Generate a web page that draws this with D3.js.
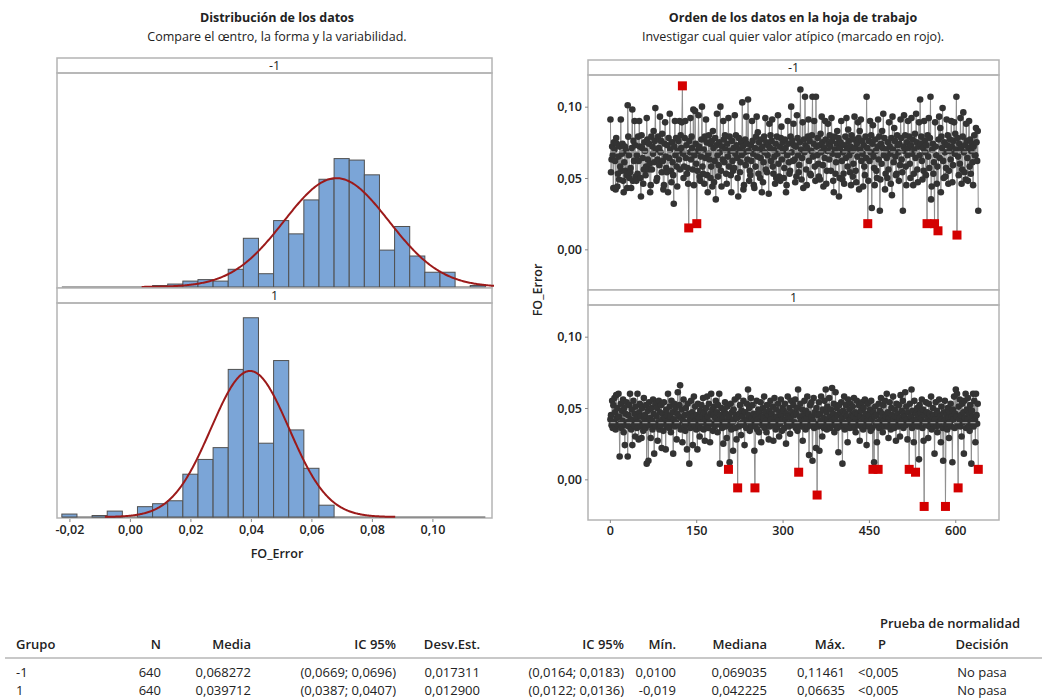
<!DOCTYPE html>
<html>
<head>
<meta charset="utf-8">
<script src="https://cdn.jsdelivr.net/npm/d3@7"></script>
<style>
  body { margin: 0; background: #fff; }
  svg { font-family: "Open Sans", sans-serif; }
</style>
</head>
<body>
<svg id="chart" width="1042" height="700"></svg>
<script>
// ---- data ----
var groups = ["-1", "1"];

// histogram bins (centres, width 0.005) and counts per group
var binMids = [-0.02, -0.015, -0.01, -0.005, 0, 0.005, 0.01, 0.015, 0.02, 0.025, 0.03, 0.035, 0.04, 0.045,
               0.05, 0.055, 0.06, 0.065, 0.07, 0.075, 0.08, 0.085, 0.09, 0.095, 0.10, 0.105, 0.11, 0.115];
var countsNeg = [0, 0, 0, 0, 0, 0, 1, 2, 4, 5, 4, 12, 33, 9, 45, 36, 59, 73, 87, 86, 76, 25, 41, 21, 10, 10, 0, 1];
var countsPos = [2, 0, 1, 4, 0, 7, 9, 11, 29, 39, 47, 100, 135, 50, 106, 59, 33, 8, 0, 0, 0, 0, 0, 0, 0, 0, 0, 0];

var statN = [640, 640];
var statMean = [0.068272, 0.039712];
var statSd = [0.017311, 0.012900];

// worksheet order, values x 1000
var seriesNeg = [
  91,54,63,72,66,43,75,70,62,42,78,74,44,53,65,49,72,58,91,55,
  67,74,48,40,61,72,55,69,52,43,101,79,66,50,54,57,43,71,98,48,
  76,62,90,73,51,48,66,53,79,62,90,72,50,37,80,71,64,46,56,75,
  69,52,58,92,77,63,56,74,60,40,45,79,56,72,67,83,61,76,99,70,
  48,50,63,79,71,59,93,68,76,54,81,62,42,45,74,89,65,57,54,73,
  40,78,64,95,70,55,47,75,61,52,32,72,90,66,78,58,44,69,76,63,
  90,56,80,71,89,114.6,67,50,58,78,90,64,73,53,57,46,15,76,68,92,
  63,79,71,56,98,45,66,97,74,60,18,55,69,94,72,51,48,65,77,100,
  58,53,70,46,79,64,91,75,52,40,67,80,63,74,50,58,76,44,83,71,
  47,62,78,35,73,95,66,51,59,75,68,100,55,44,72,63,90,77,61,80,
  70,53,46,74,65,92,58,79,69,52,40,76,62,55,71,57,94,67,80,73,
  64,50,37,78,70,54,61,75,66,103,72,42,45,68,77,59,93,74,63,105,
  69,48,55,52,73,62,90,76,67,45,43,71,58,79,93,65,82,53,75,70,
  50,64,77,40,72,47,61,79,68,92,56,75,54,66,73,39,88,71,80,62,
  76,91,58,53,70,65,46,74,50,79,67,94,60,51,72,48,78,86,63,75,
  69,50,57,77,71,40,45,66,90,74,61,53,55,79,100,68,76,62,88,73,
  63,47,72,51,94,78,66,54,59,75,112,70,49,64,89,43,77,68,107,73,
  56,45,71,79,91,62,76,53,52,69,80,107,65,74,90,58,48,107,72,66,
  78,60,51,73,49,81,68,93,75,59,44,71,64,90,77,46,55,69,88,74,
  63,80,72,55,92,76,67,48,40,79,70,53,61,74,83,66,78,37,50,71,
  75,90,62,49,68,53,46,73,79,64,92,70,58,84,76,66,54,72,45,80,
  69,51,60,77,93,71,55,47,74,65,89,78,42,83,70,91,62,76,67,44,
  73,58,52,79,64,107,71,18,48,76,62,90,68,80,29,74,87,65,57,45,
  77,69,55,50,72,91,63,79,27,49,74,60,83,71,95,66,78,42,53,70,
  64,50,75,56,89,72,67,46,78,38,93,70,61,85,76,65,52,53,80,73,
  68,48,74,59,91,78,63,54,27,72,94,69,80,58,45,75,66,90,71,79,
  60,50,73,92,67,77,45,53,70,81,64,95,75,56,47,72,89,66,105,74,
  79,62,49,71,55,90,76,68,52,73,18,80,65,92,57,78,107,35,44,70,
  74,53,61,18,89,72,66,46,58,13,77,93,64,85,40,79,71,99,62,50,
  75,68,51,57,91,73,80,46,55,69,77,63,90,72,47,59,76,89,67,81,
  70,107,10,78,65,52,74,60,92,71,46,56,79,96,68,54,73,49,88,76,
  64,48,71,90,58,77,53,69,74,61,45,72,80,66,66,85,75,62,83,27
];
var seriesPos = [
  42,45,38,55,36,52,40,57,47,35,59,43,50,38,60,44,16,39,53,36,
  48,41,56,33,50,24,46,38,54,40,16,45,37,52,60,42,35,49,24,41,
  55,38,46,30,51,43,36,60,40,28,47,53,37,44,29,50,39,34,57,42,
  45,36,52,11,40,48,13,54,38,43,29,50,41,35,56,46,18,39,53,37,
  44,50,27,40,55,35,47,38,52,22,42,46,34,54,39,43,21,49,37,45,
  60,41,36,51,44,33,55,39,47,18,42,53,37,50,40,28,46,61,38,44,
  52,66,35,43,49,26,41,56,37,45,34,50,38,21,53,40,46,11,42,36,
  55,39,47,24,44,58,37,51,41,35,45,21,53,38,43,30,48,36,52,40,
  44,57,35,47,27,42,50,38,58,44,36,53,40,26,46,60,39,49,34,45,
  51,37,43,55,39,47,33,52,41,60,11,45,38,50,36,43,25,48,40,54,
  37,46,29,51,41,7,44,12,38,53,35,47,40,20,49,42,56,36,45,28,
  43,-6,58,37,46,52,39,31,48,44,40,55,38,24,47,41,36,53,42,63,
  45,50,34,39,57,43,37,52,41,46,20,-6,38,44,55,35,42,49,33,47,
  40,54,26,44,38,50,43,58,36,47,41,33,52,39,45,28,48,37,55,42,
  46,38,51,27,43,57,40,35,49,44,37,53,41,30,47,39,56,45,34,50,
  42,48,36,53,41,25,46,39,58,44,37,50,32,43,55,40,47,38,52,45,
  40,56,36,46,50,34,63,5,38,44,53,41,37,49,27,45,39,55,42,35,
  48,43,58,37,46,17,40,52,38,54,44,13,41,57,36,47,39,22,50,-11,
  45,37,54,20,46,41,58,38,30,49,43,36,55,40,63,47,35,51,42,38,
  57,44,36,49,41,64,38,46,53,33,43,61,39,50,36,45,19,52,40,47,
  37,54,43,11,48,40,58,35,46,52,38,44,26,56,41,49,36,53,42,45,
  39,51,44,57,36,47,33,42,55,40,46,38,52,27,44,48,37,54,41,35,
  50,43,56,38,46,24,41,53,37,45,39,49,34,55,42,36,7,47,12,44,
  51,38,45,26,40,7,53,36,48,42,57,39,46,33,52,41,37,55,44,39,
  60,37,47,29,43,54,40,35,50,45,38,58,42,36,49,44,27,53,40,46,
  37,52,43,30,59,39,48,41,55,36,46,44,61,38,51,42,28,47,40,7,
  53,39,44,63,36,48,41,26,55,38,5,46,42,50,37,45,14,52,40,47,
  43,56,36,49,27,-19,45,40,54,38,47,42,29,53,37,46,41,58,35,44,
  50,39,45,18,42,54,37,48,33,46,40,56,38,44,26,51,42,36,13,47,
  41,55,-19,38,45,35,50,43,29,47,40,53,37,44,12,49,42,58,36,46,
  63,44,60,38,-6,51,42,56,37,45,30,53,40,47,18,55,43,60,36,49,
  42,57,38,46,34,52,40,11,48,44,60,37,55,42,26,60,45,39,53,7
];
// observation numbers flagged in red
var outliersNeg = [126, 137, 151, 448, 551, 564, 570, 603];
var outliersPos = [206, 222, 252, 328, 360, 457, 466, 520, 531, 546, 583, 605, 640];

var histTicks = [-0.02, 0, 0.02, 0.04, 0.06, 0.08, 0.10];
var orderTicks = [0, 150, 300, 450, 600];
var valueTicks = [0, 0.05, 0.10];

var tableHead = ["Grupo", "N", "Media", "IC 95%", "Desv.Est.", "IC 95%", "Mín.", "Mediana", "Máx.", "P", "Decisión"];
var tableRowNeg = ["-1", "640", "0,068272", "(0,0669; 0,0696)", "0,017311", "(0,0164; 0,0183)", "0,0100", "0,069035", "0,11461", "<0,005", "No pasa"];
var tableRowPos = ["1", "640", "0,039712", "(0,0387; 0,0407)", "0,012900", "(0,0122; 0,0136)", "-0,019", "0,042225", "0,06635", "<0,005", "No pasa"];

// ---- drawing ----
var svg = d3.select("#chart");
var frameColor = "#b4b4b4";
var stripH = 15, plotH = 215;

function fmt(spec) {
  return function (v) { return d3.format(spec)(v).replace(".", ",").replace("\u2212", "-"); };
}

function titles(cx, main, sub) {
  svg.append("text").attr("x", cx).attr("y", 22).attr("text-anchor", "middle")
      .style("font-size", "12.5px").style("font-weight", 700).attr("fill", "#222").text(main);
  svg.append("text").attr("x", cx).attr("y", 41).attr("text-anchor", "middle")
      .style("font-size", "12.5px").attr("fill", "#222").text(sub);
}

function panelFrame(x0, x1, top, label) {
  svg.append("rect").attr("x", x0).attr("y", top).attr("width", x1 - x0).attr("height", stripH)
      .attr("fill", "#fff").attr("stroke", frameColor).attr("stroke-width", 1.5);
  svg.append("rect").attr("x", x0).attr("y", top + stripH).attr("width", x1 - x0).attr("height", plotH)
      .attr("fill", "none").attr("stroke", frameColor).attr("stroke-width", 1.5);
  svg.append("text").attr("x", (x0 + x1) / 2).attr("y", top + stripH / 2 + 4.5)
      .attr("text-anchor", "middle").style("font-size", "12.5px").attr("fill", "#222").text(label);
}

function styleAxis(g) {
  g.select(".domain").remove();
  g.selectAll("line").attr("stroke", "#888");
  g.selectAll("text").style("font-size", "12.5px").style("font-weight", 600)
      .style("font-family", "'Open Sans', sans-serif").attr("fill", "#222");
}

// left: histograms
titles(277, "Distribución de los datos", "Compare el œntro, la forma y la variabilidad.");

var hx = d3.scaleLinear().domain([-0.0241, 0.1197]).range([57, 492]);
var hy = d3.scaleLinear().domain([0, 145]).range([0, plotH - 1]);
var binW = 0.005;
var histCounts = [countsNeg, countsPos];

svg.append("defs").selectAll("clipPath").data(groups).join("clipPath")
    .attr("id", function (d, i) { return "hclip" + i; })
  .append("rect")
    .attr("x", 57).attr("width", 437)
    .attr("y", function (d, i) { return 58 + i * (stripH + plotH) + stripH; })
    .attr("height", plotH);

groups.forEach(function (grp, i) {
  var top = 58 + i * (stripH + plotH);
  var base = top + stripH + plotH - 1;
  panelFrame(57, 492, top, grp);

  var g = svg.append("g").attr("clip-path", "url(#hclip" + i + ")");
  g.append("line")
      .attr("x1", hx(binMids[0] - binW / 2)).attr("x2", hx(binMids[binMids.length - 1] + binW / 2))
      .attr("y1", base).attr("y2", base).attr("stroke", "#555").attr("stroke-width", 1.2);

  var bins = binMids.map(function (m, j) { return {mid: m, n: histCounts[i][j]}; })
      .filter(function (b) { return b.n > 0; });
  g.selectAll("rect.bar").data(bins).join("rect").attr("class", "bar")
      .attr("x", function (b) { return hx(b.mid - binW / 2); })
      .attr("width", function (b) { return hx(b.mid + binW / 2) - hx(b.mid - binW / 2); })
      .attr("y", function (b) { return base - hy(b.n); })
      .attr("height", function (b) { return hy(b.n); })
      .attr("fill", "#7ba5d7").attr("stroke", "#505050").attr("stroke-width", 1);

  var mu = statMean[i], sd = statSd[i];
  var xs = d3.range(-3.72, 3.7201, 0.02).map(function (z) { return mu + z * sd; });
  var curve = d3.line()
      .x(function (v) { return hx(v); })
      .y(function (v) {
        var z = (v - mu) / sd;
        var pdf = Math.exp(-0.5 * z * z) / (sd * Math.sqrt(2 * Math.PI));
        return base - hy(statN[i] * binW * pdf);
      });
  g.append("path").datum(xs).attr("d", curve)
      .attr("fill", "none").attr("stroke", "#9c1a1a").attr("stroke-width", 2);
});

svg.append("g").attr("transform", "translate(0,519)")
    .call(d3.axisBottom(hx).tickValues(histTicks).tickFormat(fmt(".2f")).tickSize(3).tickPadding(3))
    .call(styleAxis);
svg.append("text").attr("x", 277).attr("y", 558).attr("text-anchor", "middle")
    .style("font-size", "12.5px").style("font-weight", 600).attr("fill", "#222").text("FO_Error");

// right: worksheet order
titles(793, "Orden de los datos en la hoja de trabajo", "Investigar cual quier valor atípico (marcado en rojo).");

var ox = d3.scaleLinear().domain([-38, 676]).range([588, 999]);
var series = [seriesNeg, seriesPos];
var outliers = [outliersNeg, outliersPos];

groups.forEach(function (grp, i) {
  var top = 60 + i * (stripH + plotH);
  var plotTop = top + stripH, plotBottom = plotTop + plotH;
  panelFrame(588, 999, top, grp);

  var oy = d3.scaleLinear().domain([-0.0285, 0.1222]).range([plotBottom, plotTop]);
  var pts = series[i].map(function (v, j) {
    return {obs: j + 1, val: v / 1000, out: outliers[i].indexOf(j + 1) >= 0};
  });

  var g = svg.append("g");
  g.append("path").datum(pts)
      .attr("d", d3.line().x(function (d) { return ox(d.obs); }).y(function (d) { return oy(d.val); }))
      .attr("fill", "none").attr("stroke", "#8f8f8f").attr("stroke-width", 1);
  g.selectAll("circle").data(pts.filter(function (d) { return !d.out; })).join("circle")
      .attr("cx", function (d) { return ox(d.obs); })
      .attr("cy", function (d) { return oy(d.val); })
      .attr("r", 3.3).attr("fill", "#333");
  g.append("line")
      .attr("x1", ox(1)).attr("x2", ox(series[i].length))
      .attr("y1", oy(statMean[i])).attr("y2", oy(statMean[i]))
      .attr("stroke", "#9a9a9a").attr("stroke-width", 1.3).attr("stroke-dasharray", "5,3");
  g.selectAll("rect.out").data(pts.filter(function (d) { return d.out; })).join("rect")
      .attr("class", "out")
      .attr("x", function (d) { return ox(d.obs) - 4.5; })
      .attr("y", function (d) { return oy(d.val) - 4.5; })
      .attr("width", 9).attr("height", 9).attr("fill", "#d40000");

  svg.append("g").attr("transform", "translate(588,0)")
      .call(d3.axisLeft(oy).tickValues(valueTicks).tickFormat(fmt(".2f")).tickSize(3).tickPadding(3))
      .call(styleAxis);
});

svg.append("g").attr("transform", "translate(0,520)")
    .call(d3.axisBottom(ox).tickValues(orderTicks).tickFormat(d3.format("d")).tickSize(3).tickPadding(3))
    .call(styleAxis);
svg.append("text").attr("transform", "translate(542,290) rotate(-90)").attr("text-anchor", "middle")
    .style("font-size", "12.5px").style("font-weight", 600).attr("fill", "#222").text("FO_Error");

// summary table
var colX = [16, 161, 251, 396, 480, 624, 676, 767, 845, 882, 982];
var colAnchor = ["start", "end", "end", "end", "end", "end", "end", "end", "end", "middle", "middle"];
var rowAnchor = ["start", "end", "end", "end", "end", "end", "end", "end", "end", "start", "middle"];
var table = svg.append("g").style("font-size", "13px").attr("fill", "#222");

table.append("text").attr("x", 950).attr("y", 628).attr("text-anchor", "middle")
    .style("font-weight", 600).text("Prueba de normalidad");
table.selectAll("text.head").data(tableHead).join("text").attr("class", "head")
    .attr("x", function (d, j) { return colX[j]; }).attr("y", 649)
    .attr("text-anchor", function (d, j) { return colAnchor[j]; })
    .style("font-weight", 600).text(function (d) { return d; });
table.append("line").attr("x1", 5).attr("x2", 1042).attr("y1", 658).attr("y2", 658)
    .attr("stroke", "#c8c8c8").attr("stroke-width", 2);
[tableRowNeg, tableRowPos].forEach(function (row, r) {
  table.selectAll("text.row" + r).data(row).join("text").attr("class", "row" + r)
      .attr("x", function (d, j) { return j === 9 ? 858 : colX[j]; })
      .attr("y", 677 + r * 18)
      .attr("text-anchor", function (d, j) { return rowAnchor[j]; })
      .text(function (d) { return d; });
});
</script>
</body>
</html>
